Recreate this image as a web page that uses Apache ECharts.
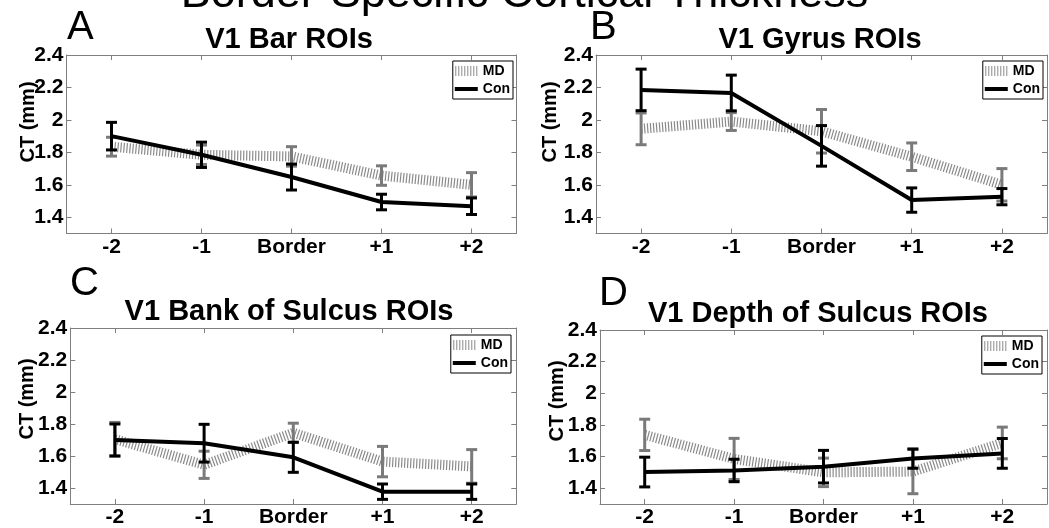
<!DOCTYPE html>
<html>
<head>
<meta charset="utf-8">
<script src="https://cdn.jsdelivr.net/npm/echarts@6/dist/echarts.min.js"></script>
<style>
html,body{margin:0;padding:0;background:#fff;}
#main{width:1049px;height:528px;}
</style>
</head>
<body>
<div id="main"></div>
<script>
// ---------- data ----------
const categories = ['-2', '-1', 'Border', '+1', '+2'];
const yTickValues = [1.4, 1.6, 1.8, 2.0, 2.2, 2.4];
const mainTitle = 'Border-Specific Cortical Thickness';
const panelTitles = ['V1 Bar ROIs', 'V1 Gyrus ROIs', 'V1 Bank of Sulcus ROIs', 'V1 Depth of Sulcus ROIs'];
const panelLetters = ['A', 'B', 'C', 'D'];
const seriesNames = ['MD', 'Con'];
const yAxisTitle = 'CT (mm)';

const barMdMean = [1.835, 1.785, 1.775, 1.657, 1.600];
const barMdErr  = [0.058, 0.060, 0.060, 0.060, 0.075];
const barConMean = [1.900, 1.785, 1.648, 1.494, 1.468];
const barConErr  = [0.085, 0.078, 0.080, 0.048, 0.051];

const gyrusMdMean = [1.945, 1.990, 1.930, 1.773, 1.600];
const gyrusMdErr  = [0.098, 0.055, 0.134, 0.085, 0.100];
const gyrusConMean = [2.185, 2.166, 1.840, 1.506, 1.527];
const gyrusConErr  = [0.128, 0.110, 0.125, 0.075, 0.050];

const bankMdMean = [1.705, 1.545, 1.745, 1.565, 1.535];
const bankMdErr  = [0.105, 0.085, 0.060, 0.095, 0.105];
const bankConMean = [1.700, 1.680, 1.592, 1.377, 1.377];
const bankConErr  = [0.100, 0.118, 0.094, 0.048, 0.048];

const depthMdMean = [1.737, 1.585, 1.500, 1.505, 1.686];
const depthMdErr  = [0.099, 0.130, 0.090, 0.140, 0.100];
const depthConMean = [1.502, 1.512, 1.536, 1.587, 1.620];
const depthConErr  = [0.094, 0.071, 0.103, 0.061, 0.094];

// ---------- layout & style ----------
const FONT = '"Liberation Sans", Arial, Helvetica, sans-serif';
const AXIS_GRAY = '#7f7f7f';
const MD_COLOR = '#8a8a8a';
const MD_BAR_COLOR = '#7a7a7a';
const CON_COLOR = '#000000';

const panels = [
  { md: barMdMean, mdErr: barMdErr, con: barConMean, conErr: barConErr,
    grid: { left: 66.5, top: 55, width: 450, height: 178.5 },
    titleX: 289, titleTop: 25.5, letterX: 67, letterTop: 8,
    yName: [28, 122], legend: { right: 536, top: 61 } },
  { md: gyrusMdMean, mdErr: gyrusMdErr, con: gyrusConMean, conErr: gyrusConErr,
    grid: { left: 596, top: 55, width: 451, height: 178.5 },
    titleX: 820, titleTop: 25.5, letterX: 590, letterTop: 8,
    yName: [550, 122], legend: { right: 6, top: 61 } },
  { md: bankMdMean, mdErr: bankMdErr, con: bankConMean, conErr: bankConErr,
    grid: { left: 70.3, top: 328, width: 446, height: 179 },
    titleX: 289, titleTop: 297, letterX: 70, letterTop: 263.5,
    yName: [27.5, 399], legend: { right: 538, top: 335 } },
  { md: depthMdMean, mdErr: depthMdErr, con: depthConMean, conErr: depthConErr,
    grid: { left: 600, top: 330, width: 447, height: 180.5 },
    titleX: 818, titleTop: 299.5, letterX: 599, letterTop: 273.5,
    yName: [557, 401], legend: { right: 7, top: 336 } }
];

function errRender(color, lw, capHalf) {
  return function (params, api) {
    const x = api.value(0);
    const pLo = api.coord([x, api.value(1)]);
    const pHi = api.coord([x, api.value(2)]);
    const style = { stroke: color, lineWidth: lw, fill: null };
    return {
      type: 'group',
      children: [
        { type: 'line', shape: { x1: pLo[0], y1: pLo[1], x2: pHi[0], y2: pHi[1] }, style: style },
        { type: 'line', shape: { x1: pLo[0] - capHalf, y1: pLo[1], x2: pLo[0] + capHalf, y2: pLo[1] }, style: style },
        { type: 'line', shape: { x1: pHi[0] - capHalf, y1: pHi[1], x2: pHi[0] + capHalf, y2: pHi[1] }, style: style }
      ]
    };
  };
}

let mdIcon = 'path://';
for (let i = 0; i < 8; i++) { mdIcon += 'M' + (i * 3) + ',0h1v10h-1z'; }
const conIcon = 'path://M0,0h23v4h-23z';

const grids = [], xAxes = [], yAxes = [], series = [], titles = [], legends = [], graphics = [];

titles.push({
  text: mainTitle, left: 524.5, top: -28, textAlign: 'center', padding: 0,
  textStyle: { fontSize: 45, fontWeight: 'normal', color: '#000', fontFamily: FONT }
});

panels.forEach(function (p, i) {
  grids.push(Object.assign({ show: false, containLabel: false }, p.grid));
  const xBase = {
    type: 'category', gridIndex: i, data: categories, boundaryGap: true,
    axisLine: { show: true, onZero: false, lineStyle: { color: AXIS_GRAY, width: 1 } },
    axisTick: { show: true, inside: true, alignWithLabel: true, length: 5, lineStyle: { color: AXIS_GRAY } },
    splitLine: { show: false }
  };
  xAxes.push(Object.assign({}, xBase, {
    position: 'bottom',
    axisLabel: { interval: 0, margin: 3, color: '#000', fontSize: 21, fontWeight: 'bold', fontFamily: FONT }
  }));
  xAxes.push(Object.assign({}, xBase, { position: 'top', axisLabel: { show: false } }));
  const yBase = {
    type: 'value', gridIndex: i, min: 1.3, max: 2.4,
    axisLine: { show: true, onZero: false, lineStyle: { color: AXIS_GRAY, width: 1 } },
    axisTick: { show: true, inside: true, length: 5, customValues: yTickValues, lineStyle: { color: AXIS_GRAY } },
    splitLine: { show: false }
  };
  yAxes.push(Object.assign({}, yBase, {
    position: 'left',
    axisLabel: { customValues: yTickValues, margin: 3, color: '#000', fontSize: 21, fontWeight: 'bold', fontFamily: FONT }
  }));
  yAxes.push(Object.assign({}, yBase, { position: 'right', axisLabel: { show: false } }));

  const xi = 2 * i, yi = 2 * i;
  series.push({
    name: seriesNames[0], type: 'line', xAxisIndex: xi, yAxisIndex: yi, data: p.md,
    symbol: 'none', color: MD_COLOR, z: 2,
    lineStyle: { color: MD_COLOR, width: 10, type: [1.2, 1.8], cap: 'butt', join: 'miter' }
  });
  series.push({
    name: seriesNames[0], type: 'custom', xAxisIndex: xi, yAxisIndex: yi, z: 3,
    data: p.md.map(function (m, j) { return [j, m - p.mdErr[j], m + p.mdErr[j]]; }),
    encode: { x: 0, y: [1, 2] }, renderItem: errRender(MD_BAR_COLOR, 3, 5.5)
  });
  series.push({
    name: seriesNames[1], type: 'line', xAxisIndex: xi, yAxisIndex: yi, data: p.con,
    symbol: 'none', color: CON_COLOR, z: 4,
    lineStyle: { color: CON_COLOR, width: 4, join: 'round' }
  });
  series.push({
    name: seriesNames[1], type: 'custom', xAxisIndex: xi, yAxisIndex: yi, z: 5,
    data: p.con.map(function (m, j) { return [j, m - p.conErr[j], m + p.conErr[j]]; }),
    encode: { x: 0, y: [1, 2] }, renderItem: errRender(CON_COLOR, 3, 5.5)
  });

  titles.push({
    text: panelTitles[i], left: p.titleX, top: p.titleTop, textAlign: 'center', padding: 0,
    textStyle: { fontSize: 29, fontWeight: 'bold', color: '#000', fontFamily: FONT }
  });
  titles.push({
    text: panelLetters[i], left: p.letterX, top: p.letterTop, padding: 0,
    textStyle: { fontSize: 40, fontWeight: 'normal', color: '#000', fontFamily: FONT }
  });

  legends.push({
    orient: 'vertical', right: p.legend.right, top: p.legend.top,
    data: [
      { name: seriesNames[0], icon: mdIcon, itemStyle: { color: MD_COLOR, borderWidth: 0 } },
      { name: seriesNames[1], icon: conIcon, itemStyle: { color: CON_COLOR, borderWidth: 0 } }
    ],
    itemWidth: 23, itemHeight: 10, itemGap: 4, padding: [3, 3, 3, 2],
    borderColor: '#000', borderWidth: 1, borderRadius: 0, backgroundColor: '#fff',
    selectedMode: false, z: 10,
    textStyle: { fontSize: 14, fontWeight: 'bold', color: '#000', fontFamily: FONT, lineHeight: 14 }
  });

  graphics.push({
    type: 'text', x: p.yName[0], y: p.yName[1], rotation: Math.PI / 2,
    style: { text: yAxisTitle, align: 'center', verticalAlign: 'middle', fill: '#000',
             fontSize: 20, fontWeight: 'bold', fontFamily: FONT }
  });
});

const chart = echarts.init(document.getElementById('main'), null, { renderer: 'canvas' });
chart.setOption({
  animation: false,
  backgroundColor: '#ffffff',
  title: titles,
  legend: legends,
  grid: grids,
  xAxis: xAxes,
  yAxis: yAxes,
  series: series,
  graphic: graphics
});
</script>
</body>
</html>
